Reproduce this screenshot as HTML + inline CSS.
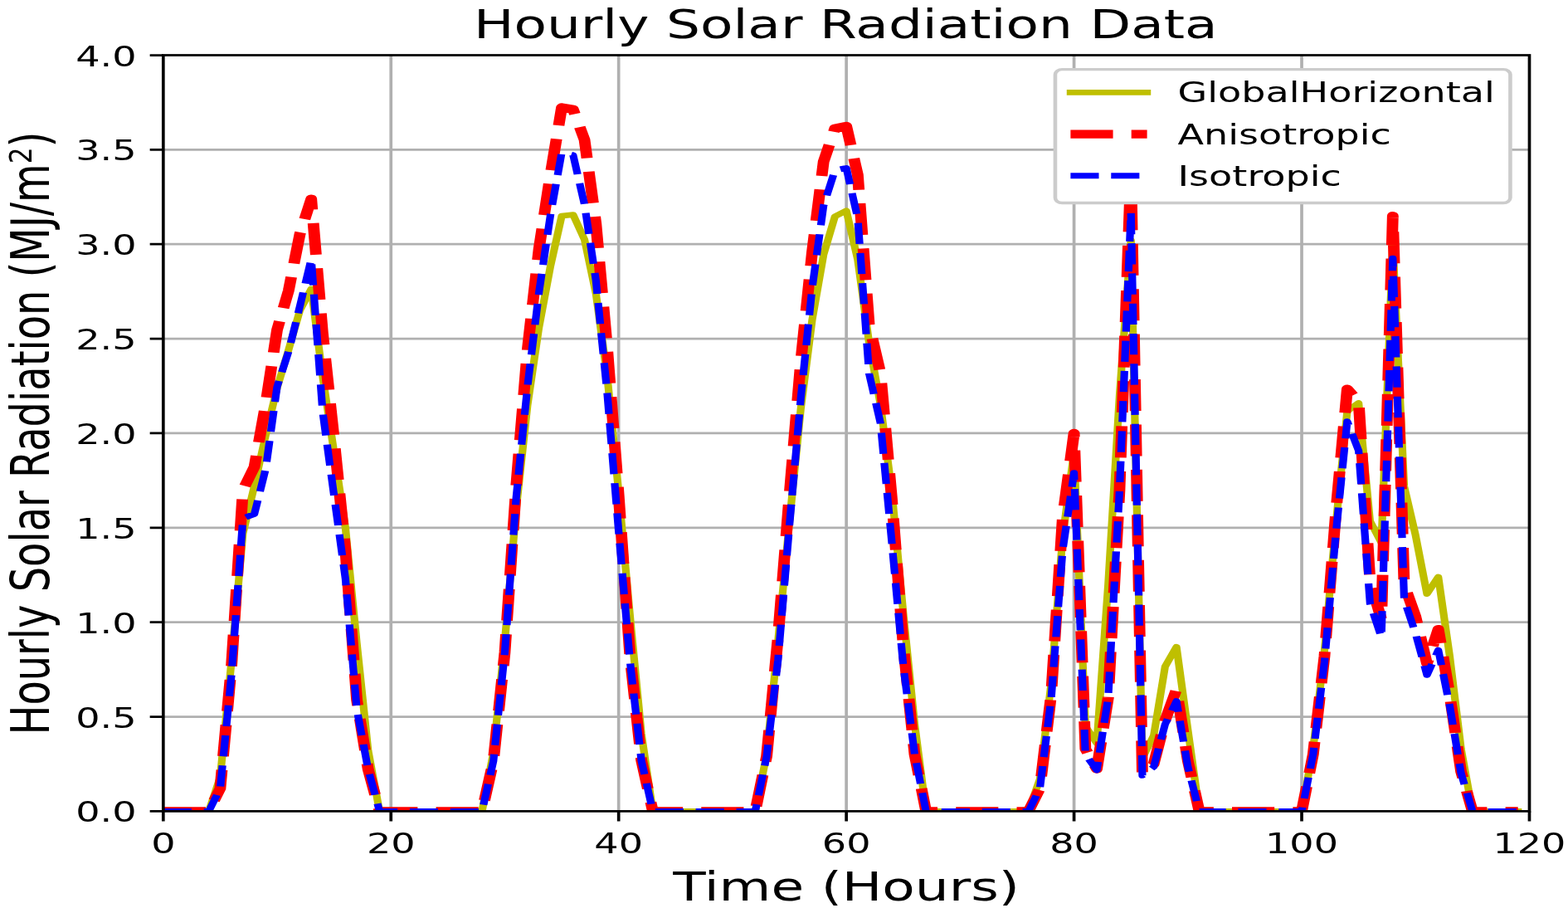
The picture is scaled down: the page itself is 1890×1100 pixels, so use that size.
<!DOCTYPE html><html><head><meta charset="utf-8"><title>Hourly Solar Radiation Data</title>
<style>html,body{margin:0;padding:0;background:#fff;overflow:hidden}svg{display:block}text{font-family:"DejaVu Sans","Liberation Sans",sans-serif;fill:#000}</style></head><body>
<svg width="1890" height="1100" viewBox="0 0 409.889 321.356" preserveAspectRatio="none">
<rect x="0" y="0" width="409.889" height="321.356" fill="#fff"/>
<defs><clipPath id="ax"><rect x="42.681" y="19.427" width="357.120" height="266.110"/></clipPath></defs>
<path d="M102.20 19.43 V285.54 M161.72 19.43 V285.54 M221.24 19.43 V285.54 M280.76 19.43 V285.54 M340.28 19.43 V285.54 M42.68 252.27 H399.80 M42.68 219.01 H399.80 M42.68 185.75 H399.80 M42.68 152.48 H399.80 M42.68 119.22 H399.80 M42.68 85.95 H399.80 M42.68 52.69 H399.80" stroke="#b0b0b0" stroke-width="0.8" fill="none"/>
<g clip-path="url(#ax)" fill="none" stroke-linejoin="round">
<path d="M42.68 285.54 L45.66 285.54 L48.63 285.54 L51.61 285.54 L54.58 285.54 L57.56 273.56 L60.54 232.32 L63.51 187.74 L66.49 171.11 L69.46 153.15 L72.44 136.52 L75.42 123.21 L78.39 109.24 L81.37 101.66 L84.34 132.52 L87.32 159.14 L90.30 185.75 L93.27 226.33 L96.25 264.25 L99.22 285.54 L102.20 285.54 L105.18 285.54 L108.15 285.54 L111.13 285.54 L114.10 285.54 L117.08 285.54 L120.06 285.54 L123.03 285.54 L126.01 285.54 L128.98 264.91 L131.96 225.66 L134.94 179.09 L137.91 142.50 L140.89 115.23 L143.86 93.94 L146.84 75.98 L149.82 75.58 L152.79 84.29 L155.77 103.25 L158.74 132.52 L161.72 173.11 L164.70 217.01 L167.67 258.26 L170.65 285.54 L173.62 285.54 L176.60 285.54 L179.58 285.54 L182.55 285.54 L185.53 285.54 L188.50 285.54 L191.48 285.54 L194.46 285.54 L197.43 285.54 L200.41 265.58 L203.38 225.66 L206.36 183.75 L209.34 143.83 L212.31 112.57 L215.29 89.61 L218.26 76.18 L221.24 74.18 L224.22 91.41 L227.19 120.62 L230.17 142.50 L233.14 173.11 L236.12 215.68 L239.10 254.93 L242.07 285.54 L245.05 285.54 L248.02 285.54 L251.00 285.54 L253.98 285.54 L256.95 285.54 L259.93 285.54 L262.90 285.54 L265.88 285.54 L268.86 285.54 L271.83 274.23 L274.81 240.30 L277.78 189.07 L280.76 159.14 L283.74 255.60 L286.71 261.59 L289.69 205.70 L292.66 139.18 L295.64 84.62 L298.62 266.91 L301.59 258.93 L304.57 234.64 L307.54 227.66 L310.52 256.93 L313.50 285.54 L316.47 285.54 L319.45 285.54 L322.42 285.54 L325.40 285.54 L328.38 285.54 L331.35 285.54 L334.33 285.54 L337.30 285.54 L340.28 285.54 L343.26 263.58 L346.23 228.99 L349.21 184.42 L352.18 144.70 L355.16 141.84 L358.14 183.42 L361.11 191.07 L364.09 85.95 L367.06 171.11 L370.04 188.41 L373.02 209.03 L375.99 203.04 L378.97 230.98 L381.94 263.58 L384.92 285.54 L387.90 285.54 L390.87 285.54 L393.85 285.54 L396.82 285.54" stroke="#bfbf00" stroke-width="2" stroke-linecap="square"/>
<path d="M42.68 285.54 L45.66 285.54 L48.63 285.54 L51.61 285.54 L54.58 285.54 L57.56 277.55 L60.54 233.98 L63.51 172.44 L66.49 164.32 L69.46 142.24 L72.44 116.09 L75.42 102.39 L78.39 82.43 L81.37 70.01 L84.34 117.22 L87.32 154.48 L90.30 193.73 L93.27 246.29 L96.25 270.90 L99.22 285.54 L102.20 285.54 L105.18 285.54 L108.15 285.54 L111.13 285.54 L114.10 285.54 L117.08 285.54 L120.06 285.54 L123.03 285.54 L126.01 285.54 L128.98 267.91 L131.96 229.65 L134.94 171.11 L137.91 122.88 L140.89 87.62 L143.86 61.74 L146.84 37.82 L149.82 38.52 L152.79 49.17 L155.77 78.64 L158.74 122.55 L161.72 174.44 L164.70 230.98 L167.67 267.57 L170.65 285.54 L173.62 285.54 L176.60 285.54 L179.58 285.54 L182.55 285.54 L185.53 285.54 L188.50 285.54 L191.48 285.54 L194.46 285.54 L197.43 285.54 L200.41 266.24 L203.38 224.33 L206.36 174.44 L209.34 127.34 L212.31 88.75 L215.29 56.88 L218.26 45.17 L221.24 44.38 L224.22 61.54 L227.19 114.30 L230.17 131.33 L233.14 175.77 L236.12 226.99 L239.10 265.58 L242.07 285.54 L245.05 285.54 L248.02 285.54 L251.00 285.54 L253.98 285.54 L256.95 285.54 L259.93 285.54 L262.90 285.54 L265.88 285.54 L268.86 285.54 L271.83 277.55 L274.81 244.29 L277.78 182.42 L280.76 152.48 L283.74 263.58 L286.71 270.68 L289.69 245.62 L292.66 172.44 L295.64 59.88 L298.62 272.56 L301.59 268.91 L304.57 253.60 L307.54 242.63 L310.52 267.77 L313.50 285.54 L316.47 285.54 L319.45 285.54 L322.42 285.54 L325.40 285.54 L328.38 285.54 L331.35 285.54 L334.33 285.54 L337.30 285.54 L340.28 285.54 L343.26 265.58 L346.23 230.98 L349.21 180.42 L352.18 136.91 L355.16 141.44 L358.14 204.37 L361.11 218.04 L364.09 75.98 L367.06 205.70 L370.04 217.01 L373.02 233.58 L375.99 221.47 L378.97 244.62 L381.94 271.57 L384.92 285.54 L387.90 285.54 L390.87 285.54 L393.85 285.54 L396.82 285.54" stroke="#ff0000" stroke-width="3" stroke-dasharray="11.1 4.8"/>
<path d="M42.68 285.54 L45.66 285.54 L48.63 285.54 L51.61 285.54 L54.58 285.54 L57.56 277.55 L60.54 237.17 L63.51 182.42 L66.49 180.96 L69.46 164.99 L72.44 136.12 L75.42 123.81 L78.39 107.78 L81.37 91.18 L84.34 144.90 L87.32 174.44 L90.30 203.71 L93.27 249.61 L96.25 270.90 L99.22 285.54 L102.20 285.54 L105.18 285.54 L108.15 285.54 L111.13 285.54 L114.10 285.54 L117.08 285.54 L120.06 285.54 L123.03 285.54 L126.01 285.54 L128.98 267.91 L131.96 229.65 L134.94 175.10 L137.91 135.85 L140.89 102.92 L143.86 75.98 L146.84 53.69 L149.82 54.57 L152.79 71.98 L155.77 98.60 L158.74 138.51 L161.72 187.08 L164.70 232.98 L167.67 267.77 L170.65 285.54 L173.62 285.54 L176.60 285.54 L179.58 285.54 L182.55 285.54 L185.53 285.54 L188.50 285.54 L191.48 285.54 L194.46 285.54 L197.43 285.54 L200.41 266.24 L203.38 232.32 L206.36 185.08 L209.34 140.11 L212.31 101.32 L215.29 72.38 L218.26 59.94 L221.24 59.14 L224.22 76.84 L227.19 131.53 L230.17 148.96 L233.14 191.07 L236.12 234.31 L239.10 265.58 L242.07 285.54 L245.05 285.54 L248.02 285.54 L251.00 285.54 L253.98 285.54 L256.95 285.54 L259.93 285.54 L262.90 285.54 L265.88 285.54 L268.86 285.54 L271.83 277.55 L274.81 245.62 L277.78 193.73 L280.76 166.45 L283.74 265.58 L286.71 271.10 L289.69 245.62 L292.66 172.44 L295.64 74.71 L298.62 272.96 L301.59 269.90 L304.57 254.93 L307.54 246.75 L310.52 269.90 L313.50 285.54 L316.47 285.54 L319.45 285.54 L322.42 285.54 L325.40 285.54 L328.38 285.54 L331.35 285.54 L334.33 285.54 L337.30 285.54 L340.28 285.54 L343.26 265.58 L346.23 232.98 L349.21 187.74 L352.18 148.29 L355.16 158.67 L358.14 212.36 L361.11 224.33 L364.09 90.94 L367.06 211.03 L370.04 223.00 L373.02 237.61 L375.99 228.79 L378.97 248.48 L381.94 272.23 L384.92 285.54 L387.90 285.54 L390.87 285.54 L393.85 285.54 L396.82 285.54" stroke="#0000ff" stroke-width="2" stroke-dasharray="7.4 3.2"/>
</g>
<path d="M42.68 285.54 v3.5 M102.20 285.54 v3.5 M161.72 285.54 v3.5 M221.24 285.54 v3.5 M280.76 285.54 v3.5 M340.28 285.54 v3.5 M399.80 285.54 v3.5 M42.68 285.54 h-3.5 M42.68 252.27 h-3.5 M42.68 219.01 h-3.5 M42.68 185.75 h-3.5 M42.68 152.48 h-3.5 M42.68 119.22 h-3.5 M42.68 85.95 h-3.5 M42.68 52.69 h-3.5 M42.68 19.43 h-3.5" stroke="#000" stroke-width="0.8" fill="none"/>
<rect x="42.681" y="19.427" width="357.120" height="266.110" fill="none" stroke="#000" stroke-width="0.8" stroke-linejoin="miter"/>
<text x="42.68" y="300.44" font-size="10" text-anchor="middle">0</text>
<text x="102.20" y="300.44" font-size="10" text-anchor="middle">20</text>
<text x="161.72" y="300.44" font-size="10" text-anchor="middle">40</text>
<text x="221.24" y="300.44" font-size="10" text-anchor="middle">60</text>
<text x="280.76" y="300.44" font-size="10" text-anchor="middle">80</text>
<text x="340.28" y="300.44" font-size="10" text-anchor="middle">100</text>
<text x="399.80" y="300.44" font-size="10" text-anchor="middle">120</text>
<text x="35.68" y="289.34" font-size="10" text-anchor="end">0.0</text>
<text x="35.68" y="256.07" font-size="10" text-anchor="end">0.5</text>
<text x="35.68" y="222.81" font-size="10" text-anchor="end">1.0</text>
<text x="35.68" y="189.55" font-size="10" text-anchor="end">1.5</text>
<text x="35.68" y="156.28" font-size="10" text-anchor="end">2.0</text>
<text x="35.68" y="123.02" font-size="10" text-anchor="end">2.5</text>
<text x="35.68" y="89.75" font-size="10" text-anchor="end">3.0</text>
<text x="35.68" y="56.49" font-size="10" text-anchor="end">3.5</text>
<text x="35.68" y="23.23" font-size="10" text-anchor="end">4.0</text>
<text x="221.04" y="13.43" font-size="14" text-anchor="middle">Hourly Solar Radiation Data</text>
<text x="221.24" y="317.00" font-size="14" text-anchor="middle">Time (Hours)</text>
<g transform="translate(12.80 152.53) rotate(-90)">
<text x="-106.19" y="0" font-size="14">Hourly Solar Radiation (MJ/m</text>
<text transform="translate(94.94 -4.5) scale(1.11 1)" font-size="8.2">2</text>
<text x="100.72" y="0" font-size="14">)</text>
</g>
<rect x="275.85" y="24.43" width="118.95" height="47.00" rx="1.8" ry="1.8" fill="#fff" stroke="#ccc" stroke-width="1"/>
<path d="M279.85 32.54 h20" stroke="#bfbf00" stroke-width="2" stroke-linecap="square" fill="none"/>
<path d="M279.85 47.20 h20" stroke="#ff0000" stroke-width="3" stroke-dasharray="11.1 4.8" fill="none"/>
<path d="M279.85 61.86 h20" stroke="#0000ff" stroke-width="2" stroke-dasharray="7.4 3.2" fill="none"/>
<text x="307.85" y="36.04" font-size="10">GlobalHorizontal</text>
<text x="307.85" y="50.70" font-size="10">Anisotropic</text>
<text x="307.85" y="65.36" font-size="10">Isotropic</text>
</svg></body></html>
